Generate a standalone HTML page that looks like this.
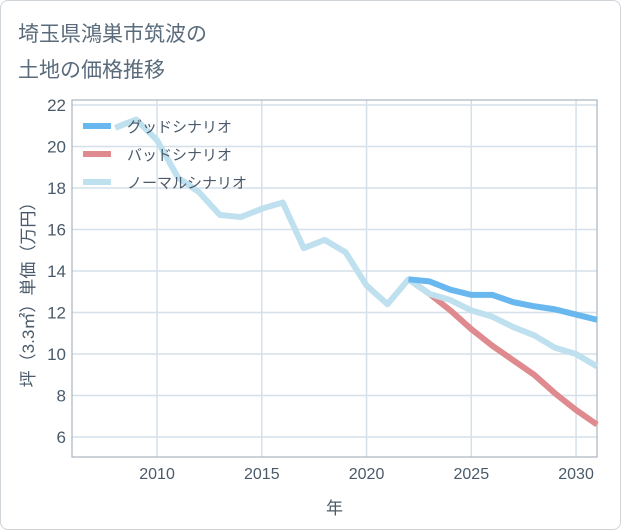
<!DOCTYPE html>
<html><head><meta charset="utf-8"><style>
body{margin:0;background:#fff;}
#wrap{position:relative;width:621px;height:530px;background:#fff;font-family:"Liberation Sans","Noto Sans CJK JP",sans-serif;box-sizing:border-box;border:1px solid #cfd4d9;border-radius:8px;overflow:hidden;}
.title{position:absolute;left:17px;font-size:21px;color:#5a6b7b;}
</style></head><body>
<div id="wrap">
<div class="title" style="top:17px">埼玉県鴻巣市筑波の</div>
<div class="title" style="top:53px">土地の価格推移</div>
<svg id="chart" width="621" height="530" style="position:absolute;left:-1px;top:-1px"></svg>
</div>
<script>
const years=[2008,2009,2010,2011,2012,2013,2014,2015,2016,2017,2018,2019,2020,2021,2022,2023,2024,2025,2026,2027,2028,2029,2030,2031];
const normalVals=[20.9,21.3,20.3,18.5,17.8,16.7,16.6,17.0,17.3,15.1,15.5,14.9,13.3,12.4,13.6,12.9,12.6,12.1,11.8,11.3,10.9,10.3,10.0,9.4];
const futureYears=[2022,2023,2024,2025,2026,2027,2028,2029,2030,2031];
const goodVals=[13.6,13.5,13.1,12.85,12.85,12.5,12.3,12.15,11.9,11.65];
const badVals=[13.6,12.9,12.1,11.2,10.4,9.7,9.0,8.1,7.3,6.6];
const yTicks=[6,8,10,12,14,16,18,20,22];
const xTicks=[2010,2015,2020,2025,2030];
const seriesNames=["グッドシナリオ","バッドシナリオ","ノーマルシナリオ"];

const L=72,R=597,T=100,B=457;
const xMin=2005.94,xMax=2031;
const yAt22=105,yAt6=437;
const X=v=>L+(v-xMin)/(xMax-xMin)*(R-L);
const Y=v=>yAt6-(v-6)/16*(yAt6-yAt22);
const svg=document.getElementById('chart');
const NS='http://www.w3.org/2000/svg';
function mk(tag,attrs){const e=document.createElementNS(NS,tag);for(const k in attrs)e.setAttribute(k,attrs[k]);svg.appendChild(e);return e;}

for(const t of yTicks){
  const g=mk('line',{x1:L,x2:R,y1:Y(t),y2:Y(t),stroke:'#d5e0ea','stroke-width':1.5});
  
  
  const tx=mk('text',{x:L-6,y:Y(t)+6,'text-anchor':'end','font-size':17,fill:'#4a5a6a'});
  tx.textContent=t;
  
  
}
for(const t of xTicks){
  const g=mk('line',{x1:X(t),x2:X(t),y1:T,y2:B,stroke:'#d5e0ea','stroke-width':1.5});
  
  
  const tx=mk('text',{x:X(t),y:B+22,'text-anchor':'middle','font-size':16,fill:'#4a5a6a'});
  tx.textContent=t;
  
  
}
const frame=mk('rect',{x:L,y:T,width:R-L,height:B-T,fill:'none',stroke:'#a9b4bf','stroke-width':1.2});



function series(xs,vs,color,name){
  const p=mk('polyline',{points:xs.map((x,i)=>X(x)+','+Y(vs[i])).join(' '),fill:'none',stroke:color,'stroke-width':6,'stroke-linejoin':'round'});
  
  
}
series(futureYears,badVals,'#de8a8f','bad-scenario-line');
series(years,normalVals,'#bfe0ef','normal-scenario-line');
series(futureYears,goodVals,'#68b8ef','good-scenario-line');

const colors=['#68b8ef','#de8a8f','#bfe0ef'];
seriesNames.forEach((n,i)=>{
  const y=126+i*28;
  const l=mk('line',{x1:83,x2:111,y1:y,y2:y,stroke:colors[i],'stroke-width':6});
  
  
  const t=mk('text',{x:127,y:y+6,'font-size':15,fill:'#4a5a6a'});
  t.textContent=n;
  
  
});

const xt=mk('text',{x:(L+R)/2,y:514,'text-anchor':'middle','font-size':17,fill:'#4a5a6a'});
xt.textContent='年';


const yt=mk('text',{x:0,y:0,'text-anchor':'middle','font-size':17,fill:'#4a5a6a',transform:'translate(34,'+((T+B)/2+12)+') rotate(-90)'});
yt.textContent='坪（3.3㎡）単価（万円）';


</script>
</body></html>
